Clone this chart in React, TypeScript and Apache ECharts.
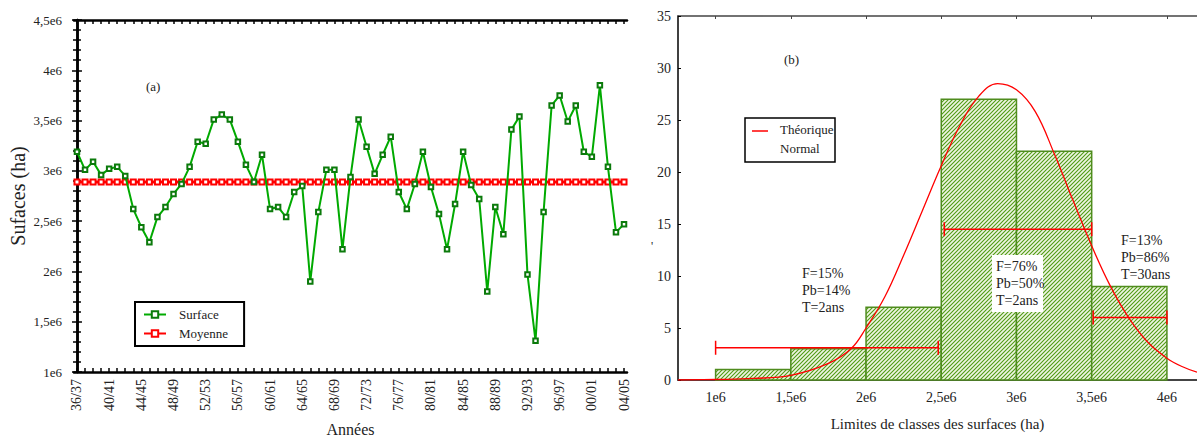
import React, { useEffect, useRef } from "react";
import * as echarts from "echarts";

const YEARS = [
  "36/37", "37/38", "38/39", "39/40", "40/41", "41/42", "42/43", "43/44", "44/45", "45/46",
  "46/47", "47/48", "48/49", "49/50", "50/51", "51/52", "52/53", "53/54", "54/55", "55/56",
  "56/57", "57/58", "58/59", "59/60", "60/61", "61/62", "62/63", "63/64", "64/65", "65/66",
  "66/67", "67/68", "68/69", "69/70", "70/71", "71/72", "72/73", "73/74", "74/75", "75/76",
  "76/77", "77/78", "78/79", "79/80", "80/81", "81/82", "82/83", "83/84", "84/85", "85/86",
  "86/87", "87/88", "88/89", "89/90", "90/91", "91/92", "92/93", "93/94", "94/95", "95/96",
  "96/97", "97/98", "98/99", "99/00", "00/01", "01/02", "02/03", "03/04", "04/05",
];

const SURFACE = [
  3.19e6, 3.01e6, 3.09e6, 2.96e6, 3.02e6, 3.04e6, 2.95e6, 2.62e6, 2.44e6, 2.29e6,
  2.54e6, 2.64e6, 2.77e6, 2.87e6, 3.04e6, 3.29e6, 3.27e6, 3.51e6, 3.56e6, 3.51e6,
  3.29e6, 3.06e6, 2.89e6, 3.16e6, 2.62e6, 2.64e6, 2.54e6, 2.79e6, 2.85e6, 1.9e6,
  2.59e6, 3.01e6, 3.01e6, 2.22e6, 2.94e6, 3.51e6, 3.24e6, 2.97e6, 3.16e6, 3.34e6,
  2.79e6, 2.62e6, 2.87e6, 3.19e6, 2.84e6, 2.57e6, 2.22e6, 2.67e6, 3.19e6, 2.86e6,
  2.72e6, 1.8e6, 2.64e6, 2.37e6, 3.41e6, 3.54e6, 1.97e6, 1.31e6, 2.59e6, 3.65e6,
  3.75e6, 3.49e6, 3.65e6, 3.19e6, 3.14e6, 3.85e6, 3.04e6, 2.39e6, 2.47e6,
];

const MEAN = 2.89e6;

const HIST_EDGES = [1e6, 1.5e6, 2e6, 2.5e6, 3e6, 3.5e6, 4e6];
const HIST_COUNTS = [1, 3, 7, 27, 22, 9];

const NORMAL_X = [
  0.75e6, 1e6, 1.25e6, 1.5e6, 1.75e6, 1.9e6, 2e6, 2.125e6, 2.25e6, 2.375e6, 2.5e6,
  2.625e6, 2.75e6, 2.875e6, 3e6, 3.125e6, 3.25e6, 3.375e6, 3.5e6, 3.625e6, 3.75e6,
  3.875e6, 4e6, 4.1e6, 4.2e6,
];
const NORMAL_Y = [
  0, 0.05, 0.15, 0.45, 1.6, 3.0, 5.0, 8.0, 12.0, 16.3, 20.6,
  24.5, 27.3, 28.5, 27.9, 25.8, 21.8, 17.3, 12.9, 9.0, 5.9,
  3.6, 2.1, 1.3, 0.75,
];

const ERR_Y = [3.1, 14.5, 6.0];
const ERR_FROM = [1e6, 2.52e6, 3.51e6];
const ERR_TO = [2.48e6, 3.5e6, 4e6];

const Y_LEFT_MIN = 1e6;
const Y_LEFT_MAX = 4.5e6;
const Y_LEFT_STEP = 0.5e6;

const FONT = "'Liberation Serif', 'Times New Roman', serif";
const TXT = "#222";

const fmtE6 = (v: number) => `${+(v / 1e6).toFixed(1)}`.replace(".", ",") + "e6";

export default function App() {
  const ref = useRef<HTMLDivElement>(null);

  useEffect(() => {
    if (!ref.current) return;
    const chart = echarts.init(ref.current, null, { renderer: "svg" });

    const cv = document.createElement("canvas");
    cv.width = 4;
    cv.height = 4;
    const ctx = cv.getContext("2d")!;
    ctx.fillStyle = "#eef5e2";
    ctx.fillRect(0, 0, 4, 4);
    ctx.strokeStyle = "#4f9a14";
    ctx.lineWidth = 1.1;
    ctx.beginPath();
    ctx.moveTo(-1, 5);
    ctx.lineTo(5, -1);
    ctx.moveTo(-1, 1);
    ctx.lineTo(1, -1);
    ctx.moveTo(3, 5);
    ctx.lineTo(5, 3);
    ctx.stroke();
    const hatch: any = { image: cv, repeat: "repeat", imageWidth: 4, imageHeight: 4 };

    const idx = YEARS.map((_, i) => i);
    const labelIdx = idx.filter((i) => i % 4 === 0);

    const blackLine = { lineStyle: { color: "#000", width: 2.5 } };

    const option: any = {
      animation: false,
      textStyle: { fontFamily: FONT },
      grid: [
        { left: 74, top: 20, width: 553, height: 352, outerBoundsMode: "none", containLabel: false },
        { left: 678, top: 16, width: 519, height: 364, outerBoundsMode: "none", containLabel: false },
      ],
      legend: {
        data: ["Surface", "Moyenne"],
        orient: "vertical",
        left: 135,
        top: 302,
        padding: [6, 16, 6, 8],
        itemGap: 6,
        itemWidth: 22,
        itemHeight: 8,
        borderColor: "#000",
        borderWidth: 2,
        backgroundColor: "#fff",
        textStyle: { fontFamily: FONT, fontSize: 13, color: TXT, padding: [0, 0, 0, 8] },
      },
      xAxis: [
        {
          type: "value",
          gridIndex: 0,
          min: -0.37,
          max: 68.37,
          position: "bottom",
          name: "Années",
          nameLocation: "middle",
          nameGap: 49,
          nameTextStyle: { fontFamily: FONT, fontSize: 16, color: TXT, verticalAlign: "top" },
          axisLine: { show: true, ...blackLine },
          axisTick: { show: true, inside: true, length: 4, customValues: idx, lineStyle: { color: "#000", width: 1.5 } },
          axisLabel: {
            customValues: labelIdx,
            rotate: 90,
            margin: 7,
            fontFamily: FONT,
            fontSize: 14,
            color: TXT,
            formatter: (v: number) => YEARS[Math.round(v)] ?? "",
          },
          splitLine: { show: false },
        },
        {
          type: "value",
          gridIndex: 0,
          min: -0.37,
          max: 68.37,
          position: "top",
          axisLine: { show: true, ...blackLine },
          axisTick: { show: true, inside: true, length: 4, customValues: idx, lineStyle: { color: "#000", width: 1.5 } },
          axisLabel: { show: false },
          splitLine: { show: false },
        },
        {
          type: "value",
          gridIndex: 1,
          min: 0.75e6,
          max: 4.2e6,
          position: "bottom",
          name: "Limites de classes des surfaces (ha)",
          nameLocation: "middle",
          nameGap: 36,
          nameTextStyle: { fontFamily: FONT, fontSize: 15, color: TXT, verticalAlign: "top" },
          axisLine: { show: true, lineStyle: { color: "#444", width: 2 } },
          axisTick: { show: false },
          axisLabel: {
            customValues: HIST_EDGES,
            margin: 10,
            fontFamily: FONT,
            fontSize: 14,
            color: TXT,
            formatter: fmtE6,
          },
          splitLine: { show: false },
        },
        {
          type: "value",
          gridIndex: 1,
          min: 0.75e6,
          max: 4.2e6,
          position: "top",
          axisLine: { show: true, lineStyle: { color: "#444", width: 1.5 } },
          axisTick: { show: true, inside: true, length: 3, customValues: HIST_EDGES, lineStyle: { color: "#444", width: 1 } },
          axisLabel: { show: false },
          splitLine: { show: false },
        },
      ],
      yAxis: [
        {
          type: "value",
          gridIndex: 0,
          min: Y_LEFT_MIN,
          max: Y_LEFT_MAX,
          interval: Y_LEFT_STEP,
          position: "left",
          name: "Sufaces (ha)",
          nameLocation: "middle",
          nameGap: 46,
          nameTextStyle: { fontFamily: FONT, fontSize: 20, color: TXT },
          axisLine: { show: true, ...blackLine },
          axisTick: { show: true, inside: true, length: 5, lineStyle: { color: "#000", width: 1.5 } },
          minorTick: { show: true, splitNumber: 5, length: 4, lineStyle: { color: "#000", width: 1.5 } },
          axisLabel: { margin: 12, fontFamily: FONT, fontSize: 13, color: TXT, formatter: fmtE6 },
          splitLine: { show: false },
        },
        {
          type: "value",
          gridIndex: 0,
          min: Y_LEFT_MIN,
          max: Y_LEFT_MAX,
          interval: Y_LEFT_STEP,
          position: "right",
          axisLine: { show: true, ...blackLine },
          axisTick: { show: true, inside: true, length: 5, lineStyle: { color: "#000", width: 1.5 } },
          minorTick: { show: true, splitNumber: 5, length: 4, lineStyle: { color: "#000", width: 1.5 } },
          axisLabel: { show: false },
          splitLine: { show: false },
        },
        {
          type: "value",
          gridIndex: 1,
          min: 0,
          max: 35,
          interval: 5,
          position: "left",
          axisLine: { show: true, lineStyle: { color: "#000", width: 1.5 } },
          axisTick: { show: true, inside: true, length: 3, lineStyle: { color: "#000", width: 1 } },
          axisLabel: { margin: 7, fontFamily: FONT, fontSize: 14, color: TXT },
          splitLine: { show: false },
        },
      ],
      series: [
        {
          name: "Moyenne",
          type: "line",
          xAxisIndex: 0,
          yAxisIndex: 0,
          data: idx.map((i) => [i, MEAN]),
          symbol: "emptyRect",
          symbolSize: 5,
          itemStyle: { color: "#ff0000", borderWidth: 3 },
          lineStyle: { color: "#ff0000", width: 3 },
          z: 2,
        },
        {
          name: "Surface",
          type: "line",
          xAxisIndex: 0,
          yAxisIndex: 0,
          data: SURFACE.map((v, i) => [i, v]),
          symbol: "emptyRect",
          symbolSize: 4.5,
          itemStyle: { color: "#0b7a0b", borderWidth: 3.5 },
          lineStyle: { color: "#00aa00", width: 2 },
          z: 3,
        },
        {
          name: "Histogramme",
          type: "custom",
          xAxisIndex: 2,
          yAxisIndex: 2,
          data: HIST_COUNTS.map((c, i) => [HIST_EDGES[i], HIST_EDGES[i + 1], c]),
          encode: { x: [0, 1], y: 2 },
          renderItem: (params: any, api: any) => {
            const p0 = api.coord([api.value(0), api.value(2)]);
            const p1 = api.coord([api.value(1), 0]);
            return {
              type: "rect",
              shape: { x: p0[0], y: p0[1], width: p1[0] - p0[0], height: p1[1] - p0[1] },
              style: { fill: hatch, stroke: "#4f8c1e", lineWidth: 1.5 },
            };
          },
          z: 2,
        },
        {
          name: "Théorique Normal",
          type: "line",
          xAxisIndex: 2,
          yAxisIndex: 2,
          data: NORMAL_X.map((x, i) => [x, NORMAL_Y[i]]),
          smooth: 0.4,
          showSymbol: false,
          symbol: "none",
          lineStyle: { color: "#ff0000", width: 1.3 },
          z: 4,
        },
        ...ERR_Y.map((y, i) => ({
          name: `err${i}`,
          type: "line",
          xAxisIndex: 2,
          yAxisIndex: 2,
          data: [
            [ERR_FROM[i], y],
            [ERR_TO[i], y],
          ],
          symbol: "rect",
          symbolSize: [1.5, 14],
          itemStyle: { color: "#ff0000" },
          lineStyle: { color: "#ff0000", width: 1.5 },
          z: 5,
        })),
      ],
      graphic: [
        { type: "text", z: 100, left: 146, top: 80, style: { text: "(a)", font: `13px ${FONT}`, fill: TXT } },
        { type: "text", z: 100, left: 784, top: 53, style: { text: "(b)", font: `13px ${FONT}`, fill: TXT } },
        {
          type: "rect",
          z: 100,
          shape: { x: 745, y: 118, width: 90, height: 44 },
          style: { fill: "#fff", stroke: "#000", lineWidth: 1.5 },
        },
        { type: "line", z: 101, shape: { x1: 752, y1: 131, x2: 768, y2: 131 }, style: { stroke: "#ff0000", lineWidth: 1.5 } },
        { type: "text", z: 101, left: 780, top: 123, style: { text: "Théorique", font: `13px ${FONT}`, fill: TXT } },
        { type: "text", z: 101, left: 780, top: 142, style: { text: "Normal", font: `13px ${FONT}`, fill: TXT } },
        {
          type: "text",
          z: 100,
          left: 802,
          top: 265,
          style: { text: "F=15%\nPb=14%\nT=2ans", font: `14px ${FONT}`, lineHeight: 17, fill: TXT },
        },
        {
          type: "rect",
          z: 100,
          shape: { x: 992, y: 255, width: 51, height: 57 },
          style: { fill: "#fff" },
        },
        {
          type: "text",
          z: 101,
          left: 996,
          top: 258,
          style: { text: "F=76%\nPb=50%\nT=2ans", font: `14px ${FONT}`, lineHeight: 17, fill: TXT },
        },
        {
          type: "text",
          z: 100,
          left: 1121,
          top: 232,
          style: { text: "F=13%\nPb=86%\nT=30ans", font: `14px ${FONT}`, lineHeight: 17, fill: TXT },
        },
        { type: "text", z: 100, left: 651, top: 240, style: { text: "'", font: `12px ${FONT}`, fill: TXT } },
      ],
    };

    chart.setOption(option);
    return () => chart.dispose();
  }, []);

  return (
    <div
      ref={ref}
      style={{ position: "absolute", left: 0, top: 0, width: 1197, height: 439, background: "#fff" }}
    />
  );
}
